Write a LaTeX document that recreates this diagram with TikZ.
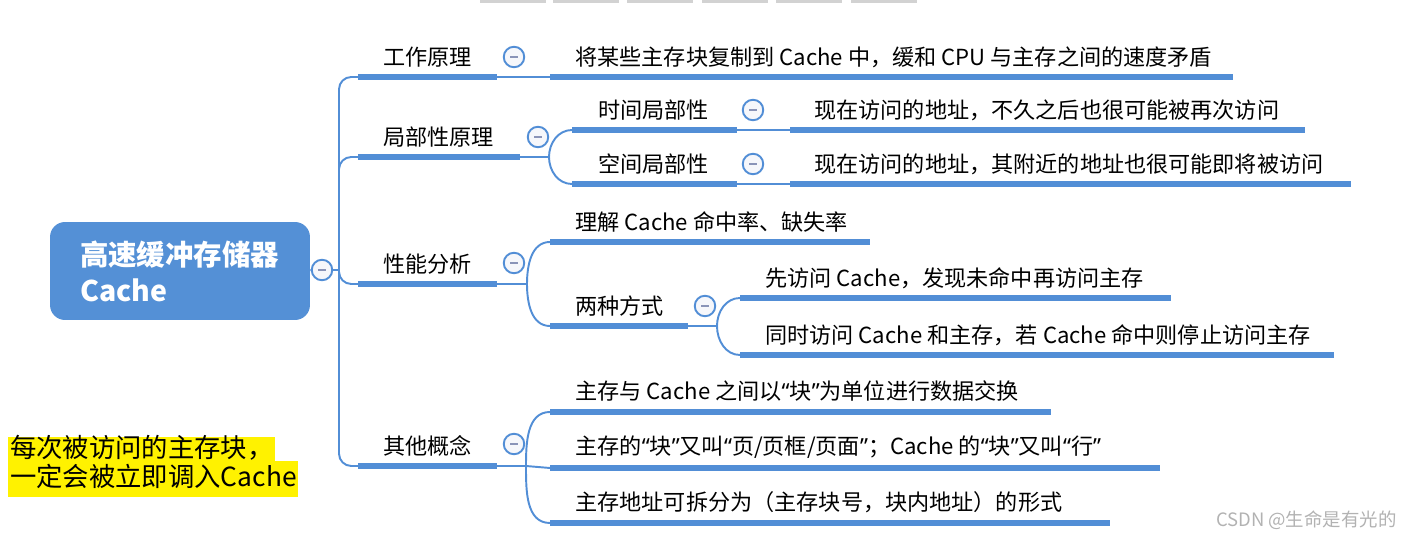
\documentclass[tikz,border=0pt]{standalone}
\usepackage{fontspec}
\setmainfont{Noto Sans CJK SC}
\newfontfamily\quotefont{Noto Sans}
\newcommand{\quoted}[1]{{\quotefont “}#1{\quotefont ”}}
\definecolor{mapblue}{RGB}{82,142,214}
\definecolor{rootblue}{RGB}{84,144,214}
\definecolor{foldbg}{RGB}{246,247,251}
\definecolor{minusgray}{RGB}{138,148,184}

\begin{document}
\begin{tikzpicture}[x=0.02cm, y=-0.02cm,
        lbl/.style={anchor=west, inner sep=0pt, font=\fontsize{12.6}{14}\selectfont},
        uline/.style={draw=mapblue, line width=3.1pt},
        link/.style={draw=mapblue, line width=1.1pt},
        fold/.style={circle, draw=mapblue, fill=foldbg, line width=1.1pt, minimum size=0.41cm, inner sep=0pt,
            path picture={\draw[minusgray, line width=1.3pt]
                ([xshift=-0.08cm]path picture bounding box.center) -- ([xshift=0.08cm]path picture bounding box.center);}},
        root/.style={fill=rootblue, text=white, rounded corners=0.3cm, minimum width=5.2cm, minimum height=1.96cm,
            text width=4.0cm, inner xsep=0.6cm, align=left, font=\fontsize{16.2}{20.4}\selectfont\bfseries},
        note/.style={anchor=west, fill=yellow, inner xsep=1pt, font=\fontsize{15}{17}\selectfont}
    ]
    \useasboundingbox (0,0) rectangle (1411,540);

    % toolbar shadow at the top edge
    \foreach \a in {480,553,627,702,776,851}
        \fill[gray!35] (\a,0) rectangle ++(66,3);

    % root
    \node[root] (root) at (180,271) {高速缓冲存储器\\Cache};
    \node[fold] (root-f) at (322,270) {};
    \coordinate (hub) at (339,270);

    % underline ends
    \foreach \n/\xl/\xr/\y in {wk/358/497/77, lk/358/520/157, xn/358/497/284, qt/358/497/466,
            wk1/550/1233/77, lk1/572/737/130, lk2/572/737/184, lk1a/790/1305/130, lk2a/790/1351/184,
            xn1/550/870/242, xn2/550/688/326, xn2a/740/1171/298, xn2b/740/1334/355,
            qt1/550/1051/412, qt2/550/1160/468, qt3/550/1110/523}
    {
        \coordinate (\n-l) at (\xl,\y);
        \coordinate (\n-r) at (\xr,\y);
    }
    \coordinate (lk-j) at (549,157);
    \coordinate (xn-j) at (527,284);
    \coordinate (xn2-j) at (717,326);
    \coordinate (qt-j) at (526,466);

    % topics
    \node[lbl] (wk) at ([shift={(25,-20)}]wk-l) {工作原理};
    \node[lbl] (lk) at ([shift={(25,-20)}]lk-l) {局部性原理};
    \node[lbl] (xn) at ([shift={(25,-20)}]xn-l) {性能分析};
    \node[lbl] (qt) at ([shift={(25,-20)}]qt-l) {其他概念};

    \node[lbl] (wk1) at ([shift={(25,-20)}]wk1-l) {将某些主存块复制到 Cache 中，缓和 CPU 与主存之间的速度矛盾};
    \node[lbl] (lk1) at ([shift={(26,-20)}]lk1-l) {时间局部性};
    \node[lbl] (lk2) at ([shift={(26,-20)}]lk2-l) {空间局部性};
    \node[lbl] (lk1a) at ([shift={(24,-20)}]lk1a-l) {现在访问的地址，不久之后也很可能被再次访问};
    \node[lbl] (lk2a) at ([shift={(24,-20)}]lk2a-l) {现在访问的地址，其附近的地址也很可能即将被访问};
    \node[lbl] (xn1) at ([shift={(25,-20)}]xn1-l) {理解 Cache 命中率、缺失率};
    \node[lbl] (xn2) at ([shift={(25,-20)}]xn2-l) {两种方式};
    \node[lbl] (xn2a) at ([shift={(25,-20)}]xn2a-l) {先访问 Cache，发现未命中再访问主存};
    \node[lbl] (xn2b) at ([shift={(25,-20)}]xn2b-l) {同时访问 Cache 和主存，若 Cache 命中则停止访问主存};
    \node[lbl] (qt1) at ([shift={(25,-21)}]qt1-l) {主存与 Cache 之间以\quoted{块}为单位进行数据交换};
    \node[lbl] (qt2) at ([shift={(25,-21)}]qt2-l) {主存的\quoted{块}又叫\quoted{页/页框/页面}；Cache 的\quoted{块}又叫\quoted{行}};
    \node[lbl] (qt3) at ([shift={(25,-21)}]qt3-l) {主存地址可拆分为（主存块号，块内地址）的形式};

    % fold buttons
    \node[fold] (wk-f) at (514,57) {};
    \node[fold] (lk-f) at (538,137) {};
    \node[fold] (lk1-f) at (753,110) {};
    \node[fold] (lk2-f) at (753,164) {};
    \node[fold] (xn-f) at (514,263) {};
    \node[fold] (xn2-f) at (705,306) {};
    \node[fold] (qt-f) at (514,444) {};

    % connectors
    \draw[link] (root) -- (root-f);
    \draw[link] (root-f) -- (hub);
    \foreach \n in {wk,lk,xn,qt}
        \draw[link, rounded corners=7pt] (hub) |- (\n-l);
    \draw[link] (wk-r) -- (wk1-l);
    \draw[link] (lk-r) -- (lk-j);
    \draw[link] (lk-j) to[out=90,in=180] (lk1-l);
    \draw[link] (lk-j) to[out=-90,in=180] (lk2-l);
    \draw[link] (lk1-r) -- (lk1a-l);
    \draw[link] (lk2-r) -- (lk2a-l);
    \draw[link] (xn-r) -- (xn-j);
    \draw[link] (xn-j) to[out=90,in=180] (xn1-l);
    \draw[link] (xn-j) to[out=-90,in=180] (xn2-l);
    \draw[link] (xn2-r) -- (xn2-j);
    \draw[link] (xn2-j) to[out=90,in=180] (xn2a-l);
    \draw[link] (xn2-j) to[out=-90,in=180] (xn2b-l);
    \draw[link] (qt-r) -- (qt-j);
    \draw[link] (qt-j) to[out=90,in=180] (qt1-l);
    \draw[link] (qt-j) -- (qt2-l);
    \draw[link] (qt-j) to[out=-90,in=180] (qt3-l);

    % underlines
    \foreach \n in {wk,lk,xn,qt,wk1,lk1,lk2,lk1a,lk2a,xn1,xn2,xn2a,xn2b,qt1,qt2,qt3}
        \draw[uline] (\n-l) -- (\n-r);

    % yellow note
    \node[note, text height=11pt, text depth=2pt, inner ysep=0.5pt] (note1) at (8,449.5) {每次被访问的主存块，};
    \node[note, text height=11pt, text depth=3pt, inner ysep=3pt] (note2) at (8,479) {一定会被立即调入Cache};

    % watermark
    \node[anchor=east, inner sep=0pt, text=gray!60, font=\fontsize{10.5}{12}\selectfont] (mark) at (1397,520) {CSDN @生命是有光的};
\end{tikzpicture}
\end{document}
